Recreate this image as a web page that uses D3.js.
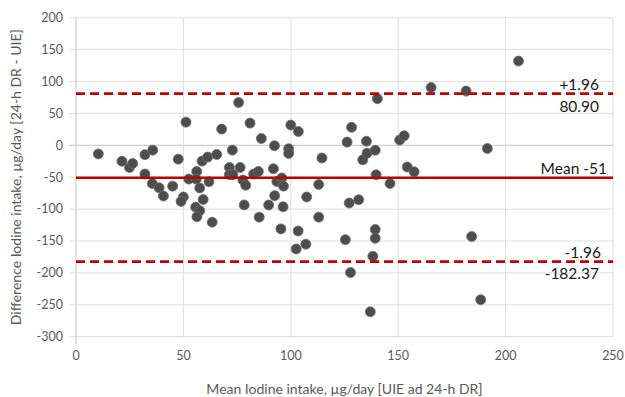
<!DOCTYPE html>
<html>
<head>
<meta charset="utf-8">
<script src="https://cdn.jsdelivr.net/npm/d3@7"></script>
<style>
  body { margin: 0; background: #fff; }
  svg { display: block; font-family: Lato, "Open Sans", sans-serif; }
</style>
</head>
<body>
<div id="root"></div>
<script>
// Bland-Altman points: mean of the two methods vs their difference
const meanIntake = [10.4, 21.4, 24.9, 26.4, 32.1, 35.7, 32.1, 35.5, 38.7, 40.7,
  45, 47.6, 50, 48.9, 51.2, 52.5, 56.2, 56, 57.6, 55.7,
  57.6, 56.3, 58.7, 61.3, 59.2, 61.9, 63.4, 65.5, 67.8, 71.4,
  71.4, 72.8, 73, 75.7, 76.4, 77.7, 79, 78.3, 81, 82.7,
  84.9, 85.3, 86.3, 89.7, 92.4, 91.9, 92.5, 93.5, 95.8, 96.6,
  96.4, 95.4, 99, 99, 100, 103.5, 102.5, 103.4, 107, 107.4,
  113, 113, 114.5, 125.4, 126.2, 127.2, 127.8, 128.3, 131.6, 133.5,
  135.2, 135.5, 137, 138.2, 139.3, 139.3, 139.3, 139.7, 140.3, 146.2,
  150.7, 152.8, 154.2, 157.4, 165.3, 181.6, 184.2, 188.4, 191.5, 206]
const diffIntake = [-13.5, -25, -34.8, -28.5, -14.7, -7.6, -45, -60, -66.6, -79.5,
  -64, -21.7, -81, -88, 36.3, -53, -41, -53, -67, -97,
  -102.5, -112, -24.8, -18.5, -85, -57, -120.5, -14.4, 25.4, -34.8,
  -46, -7.6, -46, 67, -34.8, -54.5, -62.7, -93.5, 34.8, -45,
  -41, -112.6, 10.7, -93.6, -0.8, -36.8, -79, -56.8, -51.2, -64,
  -96.4, -131, -5.5, -12.7, 31.7, 21.6, -162.5, -134.3, -155, -81,
  -61.5, -112.6, -20, -148, 5, -90.5, -199.5, 28.2, -85.4, -22.8,
  6.3, -12.3, -261, -174, -132, -145.7, -7.8, -46.2, 73, -60,
  8.3, 15, -34, -41.5, 90.6, 85, -143, -242, -5, 132]

const meanDiff = -51
const upperLoA = 80.90
const lowerLoA = -182.37

const xTicks = [0, 50, 100, 150, 200, 250]
const yTicks = [200, 150, 100, 50, 0, -50, -100, -150, -200, -250, -300]

const w = 625, h = 397
const margin = {left: 76, right: 12, top: 17.7, bottom: 60.3}

const x = d3.scaleLinear().domain([0, 250]).range([margin.left, w - margin.right])
const y = d3.scaleLinear().domain([-300, 200]).range([h - margin.bottom, margin.top])

const svg = d3.select("#root").append("svg")
    .attr("width", w)
    .attr("height", h)

const grid = svg.append("g")

// horizontal gridlines, pushed a little left as tick marks
grid.selectAll("line.hgrid")
    .data(yTicks)
    .join("line")
    .attr("class", "hgrid")
    .attr("x1", x(0) - 7)
    .attr("x2", x(250))
    .attr("y1", d => y(d))
    .attr("y2", d => y(d))
    .attr("stroke", d => d === 0 ? "#c4c4c4" : "#dedede")
    .attr("stroke-width", 1)

grid.selectAll("line.vgrid")
    .data(xTicks)
    .join("line")
    .attr("class", "vgrid")
    .attr("x1", d => x(d))
    .attr("x2", d => x(d))
    .attr("y1", y(200))
    .attr("y2", d => d === 0 ? y(-300) + 8 : y(-300))
    .attr("stroke", d => d === 0 ? "#c4c4c4" : "#dedede")
    .attr("stroke-width", 1)

// tick labels
svg.selectAll("text.ytick")
    .data(yTicks)
    .join("text")
    .attr("class", "ytick")
    .attr("x", x(0) - 13)
    .attr("y", d => y(d))
    .attr("dy", "0.35em")
    .attr("text-anchor", "end")
    .attr("font-size", 12.5)
    .attr("fill", "#595959")
    .text(d => d)

svg.selectAll("text.xtick")
    .data(xTicks)
    .join("text")
    .attr("class", "xtick")
    .attr("x", d => x(d))
    .attr("y", y(-300) + 19)
    .attr("dy", "0.35em")
    .attr("text-anchor", "middle")
    .attr("font-size", 12.5)
    .attr("fill", "#595959")
    .text(d => d)

// axis titles
svg.append("text")
    .attr("x", (x(0) + x(250)) / 2)
    .attr("y", 389)
    .attr("dy", "0.35em")
    .attr("text-anchor", "middle")
    .attr("font-size", 14)
    .attr("fill", "#595959")
    .text("Mean Iodine intake, µg/day [UIE ad 24-h DR]")

svg.append("text")
    .attr("transform", `translate(16,${(y(200) + y(-300)) / 2}) rotate(-90)`)
    .attr("dy", "0.35em")
    .attr("text-anchor", "middle")
    .attr("font-size", 14)
    .attr("fill", "#595959")
    .text("Difference Iodine intake, µg/day [24-h DR - UIE]")

// points
svg.selectAll("circle.pt")
    .data(meanIntake.map((m, i) => ({m: m, d: diffIntake[i]})))
    .join("circle")
    .attr("class", "pt")
    .attr("cx", d => x(d.m))
    .attr("cy", d => y(d.d))
    .attr("r", 5)
    .attr("fill", "#4d4d4d")
    .attr("stroke", "#6f6f6f")
    .attr("stroke-width", 0.8)

// mean and limits of agreement
svg.append("line")
    .attr("x1", x(0)).attr("x2", x(250))
    .attr("y1", y(meanDiff)).attr("y2", y(meanDiff))
    .attr("stroke", "#c00000")
    .attr("stroke-width", 2.5)

svg.selectAll("line.loa")
    .data([upperLoA, lowerLoA])
    .join("line")
    .attr("class", "loa")
    .attr("x1", x(0)).attr("x2", x(250))
    .attr("y1", d => y(d)).attr("y2", d => y(d))
    .attr("stroke", "#c00000")
    .attr("stroke-width", 2.8)
    .attr("stroke-dasharray", "9,5")

const lbl = (txt, xx, yy) => svg.append("text")
    .attr("x", xx)
    .attr("y", yy)
    .attr("text-anchor", "end")
    .attr("font-size", 15.5)
    .attr("fill", "#1a1a1a")
    .text(txt)

lbl("+1.96", 599, y(upperLoA) - 3.5)
lbl(upperLoA.toFixed(2), 599, y(upperLoA) + 18.5)
lbl("Mean " + meanDiff, 607, y(meanDiff) - 3.5)
lbl("-1.96", 601, y(lowerLoA) - 3.5)
lbl(lowerLoA.toFixed(2), 599, y(lowerLoA) + 17.5)
</script>
</body>
</html>
